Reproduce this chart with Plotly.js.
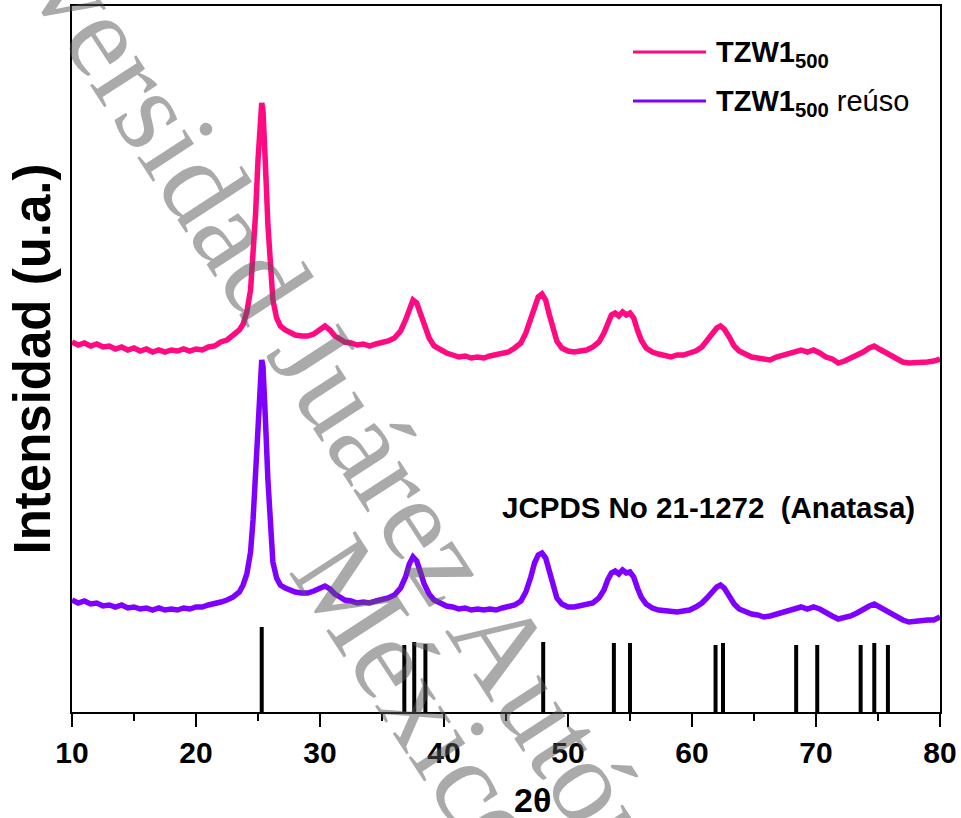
<!DOCTYPE html>
<html>
<head>
<meta charset="utf-8">
<script src="https://cdn.plot.ly/plotly-3.0.1.min.js"></script>
<style>html,body{margin:0;padding:0;background:#fff;}</style>
</head>
<body>
<div id="chart" style="width:961px;height:818px;"></div>
<script>
// 2θ grid (degrees)
const twoTheta = [10.0,10.5,11.0,11.5,12.0,12.5,13.0,13.5,14.0,14.5,15.0,15.5,16.0,16.5,17.0,17.5,18.0,18.5,19.0,19.5,20.0,20.5,21.0,21.5,22.0,22.5,23.0,23.5,
 23.8,24.1,24.4,24.6,24.8,
 25.0,25.1,25.2,25.3,25.4,25.5,25.6,
 25.8,26.0,26.2,26.5,26.8,
 27.2,27.6,
 28.0,28.5,29.0,29.5,30.0,
 30.4,30.8,31.2,31.6,
 32.0,32.5,33.0,33.5,34.0,34.5,35.0,35.5,36.0,36.5,
 36.9,37.2,37.5,37.8,38.1,38.4,38.8,39.2,
 39.7,40.2,40.7,41.2,41.7,42.2,42.7,43.2,43.7,44.2,44.7,45.2,45.7,
 46.2,46.6,47.0,47.3,47.6,47.9,48.2,48.5,48.8,49.1,49.5,
 50.0,50.5,51.0,51.5,52.0,52.5,
 52.9,53.2,53.5,53.8,54.1,54.4,54.7,55.0,55.3,55.6,55.9,56.3,
 56.8,57.3,57.8,58.3,58.8,59.3,59.8,60.3,60.8,
 61.2,61.6,62.0,62.3,62.6,63.0,63.4,63.8,
 64.3,64.8,65.3,65.8,66.3,66.8,67.3,67.8,68.3,68.8,69.3,69.8,70.3,70.8,71.3,71.8,72.3,72.8,73.3,73.8,74.3,
 74.7,75.1,75.5,
 76.0,76.5,77.0,77.5,78.0,78.5,79.0,79.5,80.0];

// TZW1_500 intensity (a.u., offset pattern)
const tzw1 = [370,367,369,366,368,365,366,363,365,362,364,361,363,360,362,360,362,361,363,361,363,362,365,366,370,372,377,382,
 388,400,422,452,497,
 552,577,600,609,602,582,547,
 487,442,412,394,386,
 382,379,
 377,376,376,378,382,
 386,382,376,373,
 370,369,367,368,366,368,369,371,374,381,
 392,404,412,409,398,386,374,366,
 362,359,357,355,356,354,355,354,356,357,359,360,364,
 369,379,394,407,415,418,412,397,382,371,364,
 361,360,361,362,365,370,
 379,389,397,399,396,400,397,399,394,382,372,364,
 360,358,356,355,357,357,359,361,365,
 371,378,384,386,383,375,366,361,
 358,355,354,353,352,355,357,359,361,362,360,362,359,355,353,349,351,354,356,360,364,
 366,363,360,
 357,354,350,349,349,350,350,351,353];

// TZW1_500 reúso intensity
const tzw1Reuso = [112,109,111,108,109,106,107,105,107,104,105,103,104,102,104,102,103,102,104,103,105,105,107,108,110,112,115,120,
 127,138,160,192,242,
 297,322,344,352,346,326,292,
 232,182,150,134,127,
 124,122,
 120,119,119,121,123,
 126,123,118,115,
 112,111,109,110,109,111,112,114,117,124,
 135,148,155,151,140,128,118,112,
 109,106,105,103,104,102,103,102,103,102,104,105,107,
 111,120,135,149,157,159,154,139,124,114,108,
 105,105,106,107,109,114,
 122,132,139,141,138,142,139,140,135,124,115,108,
 104,102,101,101,100,101,102,105,109,
 114,120,125,127,124,116,108,103,
 100,98,97,95,96,98,100,102,104,105,103,105,103,99,96,93,94,96,99,103,106,
 108,105,102,
 99,95,92,90,91,91,92,92,95];

// JCPDS 21-1272 (Anatasa) reference lines
const jcpdsPos = [25.3,36.8,37.6,38.5,48.0,53.7,55.0,61.9,62.5,68.4,70.1,73.6,74.7,75.8];
const jcpdsHeight = [85,67,70,68,70,69,69,67,69,67,67,67,69,67];

const seriesNames = ['<b>TZW1<sub>500</sub></b>', '<b>TZW1<sub>500</sub></b> reúso'];
const seriesColors = ['#ff0a80', '#8000ff'];

const stickX = [], stickY = [];
jcpdsPos.forEach((p, i) => { stickX.push(p, p, null); stickY.push(0, jcpdsHeight[i], null); });

const traces = [
  {x: twoTheta, y: tzw1, type: 'scatter', mode: 'lines', name: seriesNames[0],
   line: {color: seriesColors[0], width: 5.5}, showlegend: false},
  {x: twoTheta, y: tzw1Reuso, type: 'scatter', mode: 'lines', name: seriesNames[1],
   line: {color: seriesColors[1], width: 5.5}, showlegend: false},
  {x: stickX, y: stickY, type: 'scatter', mode: 'lines', name: 'JCPDS No 21-1272',
   line: {color: '#000', width: 4}, showlegend: false, connectgaps: false}
];

const F = 'Arial, "Liberation Sans", sans-serif';
const layout = {
  width: 961, height: 818,
  margin: {l: 72, r: 21, t: 6, b: 106},
  paper_bgcolor: '#fff', plot_bgcolor: '#fff',
  showlegend: false,
  xaxis: {
    range: [10, 80], tick0: 10, dtick: 10,
    ticks: 'outside', ticklen: 13, tickwidth: 2, tickcolor: '#000',
    minor: {dtick: 5, ticks: 'outside', ticklen: 7, tickwidth: 2, tickcolor: '#000', showgrid: false},
    showline: true, linewidth: 2, linecolor: '#000', mirror: true,
    showgrid: false, zeroline: false,
    tickfont: {family: F, size: 30, color: '#000', weight: 'bold'}
  },
  yaxis: {
    range: [0, 706], showticklabels: false, ticks: '',
    showline: true, linewidth: 2, linecolor: '#000', mirror: true,
    showgrid: false, zeroline: false,
    title: {text: 'Intensidad (u.a.)', standoff: 3, font: {family: F, size: 51, color: '#000', weight: 'bold'}}
  },
  shapes: [
    {type: 'line', xref: 'paper', yref: 'paper', x0: 0.6463, x1: 0.7304, y0: 0.9348, y1: 0.9348, line: {color: seriesColors[0], width: 3}},
    {type: 'line', xref: 'paper', yref: 'paper', x0: 0.6463, x1: 0.7304, y0: 0.8654, y1: 0.8654, line: {color: seriesColors[1], width: 3}}
  ],
  annotations: [
    {xref: 'paper', yref: 'paper', x: 0.7396, y: 0.9348, xanchor: 'left', yanchor: 'middle', yshift: -2, showarrow: false,
     text: seriesNames[0], font: {family: F, size: 29, color: '#000'}},
    {xref: 'paper', yref: 'paper', x: 0.7396, y: 0.8654, xanchor: 'left', yanchor: 'middle', yshift: -2, showarrow: false,
     text: seriesNames[1], font: {family: F, size: 29, color: '#000'}},
    {xref: 'paper', yref: 'paper', x: 0.493, y: 0.289, xanchor: 'left', yanchor: 'middle', showarrow: false,
     text: 'JCPDS No 21-1272\u00a0\u00a0(Anatasa)', font: {family: F, size: 29.5, color: '#000', weight: 'bold'}},
    {xref: 'paper', yref: 'paper', x: 0.531, y: -0.1246, xanchor: 'center', yanchor: 'middle', showarrow: false,
     text: '2θ', font: {family: F, size: 34, color: '#000', weight: 'bold'}},
    // watermark
    {xref: 'paper', yref: 'paper', x: 0.5058, y: 0.0737, xanchor: 'center', yanchor: 'middle', showarrow: false,
     textangle: 57, text: 'Universidad Juárez Autónoma de Tabasco',
     font: {family: '"Liberation Serif", "DejaVu Serif", serif', size: 120, color: 'rgba(85,85,85,0.5)'}},
    {xref: 'paper', yref: 'paper', x: 0.4032, y: 0.0127, xanchor: 'center', yanchor: 'middle', showarrow: false,
     textangle: 57, text: 'México',
     font: {family: '"Liberation Serif", "DejaVu Serif", serif', size: 120, color: 'rgba(85,85,85,0.5)'}}
  ]
};

Plotly.newPlot('chart', traces, layout, {displayModeBar: false, staticPlot: true});
</script>
</body>
</html>
